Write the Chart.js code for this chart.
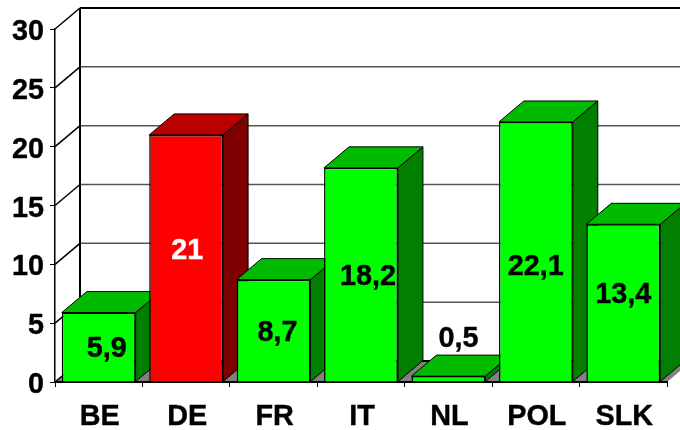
<!DOCTYPE html>
<html>
<head>
<meta charset="utf-8">
<style>
  html, body { margin: 0; padding: 0; background: #fff; }
  #wrap { width: 680px; height: 430px; overflow: hidden; }
</style>
<script src="https://cdn.jsdelivr.net/npm/chart.js@4/dist/chart.umd.min.js"></script>
</head>
<body>
<div id="wrap"><canvas id="chart" width="680" height="430"></canvas></div>
<script>
var categories = ["BE", "DE", "FR", "IT", "NL", "POL", "SLK"];
var values = [5.9, 21, 8.7, 18.2, 0.5, 22.1, 13.4];
var valueLabels = ["5,9", "21", "8,7", "18,2", "0,5", "22,1", "13,4"];
var labelColors = ["#000", "#fff", "#000", "#000", "#000", "#000", "#000"];

var frontColors = ["#00ff00", "#ff0000", "#00ff00", "#00ff00", "#00ff00", "#00ff00", "#00ff00"];
var topColors = ["#00bb00", "#bb0000", "#00bb00", "#00bb00", "#00bb00", "#00bb00", "#00bb00"];
var sideColors = ["#007f00", "#7f0000", "#007f00", "#007f00", "#007f00", "#007f00", "#007f00"];

// 3d depth of the box
var depthX = 25;
var depthY = 21;
// hand placed labels, relative to the middle of each bar
var nudgeX = [8, 1, 4, 7, 10, 0, 0];
var nudgeY = [0, -9, 0, 0, 0, 13, -10];

var fontName = "'Liberation Sans', Arial, sans-serif";

function poly(ctx, pts, fill, stroke, lw) {
  ctx.beginPath();
  ctx.moveTo(pts[0][0], pts[0][1]);
  for (var i = 1; i < pts.length; i++) ctx.lineTo(pts[i][0], pts[i][1]);
  ctx.closePath();
  if (fill) { ctx.fillStyle = fill; ctx.fill(); }
  if (stroke) { ctx.strokeStyle = stroke; ctx.lineWidth = lw; ctx.stroke(); }
}

function line(ctx, x1, y1, x2, y2, color, lw) {
  ctx.beginPath();
  ctx.moveTo(x1, y1);
  ctx.lineTo(x2, y2);
  ctx.strokeStyle = color;
  ctx.lineWidth = lw;
  ctx.stroke();
}

// the original text is a bit narrow and heavy, so squeeze it and thicken it
function label(ctx, text, x, y, align, color) {
  ctx.save();
  ctx.translate(x, y);
  ctx.scale(0.96, 1);
  ctx.font = "bold 30px " + fontName;
  ctx.textAlign = align;
  ctx.textBaseline = "alphabetic";
  ctx.fillStyle = color;
  ctx.strokeStyle = color;
  ctx.lineWidth = 0.4;
  ctx.fillText(text, 0, 0);
  ctx.strokeText(text, 0, 0);
  ctx.restore();
}

var wall = {
  id: "wall",
  beforeDraw: function(chart) {
    var ctx = chart.ctx, a = chart.chartArea, y = chart.scales.y;
    ctx.save();
    // floor
    poly(ctx, [[a.left, a.bottom], [a.right, a.bottom], [a.right + depthX, a.bottom - depthY], [a.left + depthX, a.bottom - depthY]], "#808080");
    // gridlines on the back wall, and the slanted bit on the side wall
    y.ticks.forEach(function(t) {
      var py = y.getPixelForValue(t.value);
      var isEdge = t.value == 0 || t.value == 30;
      line(ctx, a.left + depthX, py - depthY, a.right + depthX, py - depthY, isEdge ? "#000" : "#555", isEdge ? 2 : 1.5);
      line(ctx, a.left, py, a.left + depthX, py - depthY, "#000", 1.5);
    });
    line(ctx, a.left + depthX, a.top - depthY, a.left + depthX, a.bottom - depthY, "#000", 2);
    ctx.restore();
  },
  beforeDatasetsDraw: function(chart) {
    var ctx = chart.ctx, bars = chart.getDatasetMeta(0).data;
    ctx.save();
    ctx.lineJoin = "round";
    bars.forEach(function(b, i) {
      var p = b.getProps(["x", "y", "base", "width"], true);
      var l = p.x - p.width / 2, r = p.x + p.width / 2;
      poly(ctx, [[r, p.y], [r + depthX, p.y - depthY], [r + depthX, p.base - depthY], [r, p.base]], sideColors[i], "#000", 1);
      poly(ctx, [[l, p.y], [r, p.y], [r + depthX, p.y - depthY], [l + depthX, p.y - depthY]], topColors[i], "#000", 1);
    });
    ctx.restore();
  },
  afterDatasetsDraw: function(chart) {
    var ctx = chart.ctx, bars = chart.getDatasetMeta(0).data;
    var xs = chart.scales.x, ys = chart.scales.y, a = chart.chartArea;
    bars.forEach(function(b, i) {
      var p = b.getProps(["x", "y", "base"], true);
      var py = (p.y + p.base) / 2;
      // NL is too thin, label sits above the box
      if (values[i] < 1) py = p.y - 39;
      label(ctx, valueLabels[i], p.x + nudgeX[i], py + nudgeY[i] + 10, "center", labelColors[i]);
    });
    // axis labels, positions come from the scales
    xs.ticks.forEach(function(t, i) {
      label(ctx, xs.getLabelForValue(t.value), xs.getPixelForValue(t.value) + 1, a.bottom + 43, "center", "#000");
    });
    ys.ticks.forEach(function(t) {
      label(ctx, String(t.value), a.left - 11, ys.getPixelForValue(t.value) + 11, "right", "#000");
    });
  }
};

new Chart(document.getElementById("chart"), {
  type: "bar",
  data: {
    labels: categories,
    datasets: [{
      data: values,
      backgroundColor: frontColors,
      borderColor: "#000",
      borderWidth: 1.5,
      categoryPercentage: 1,
      barPercentage: 0.845,
      clip: false
    }]
  },
  options: {
    responsive: false,
    animation: false,
    layout: { padding: { top: 29, right: 13, left: 0, bottom: 0 } },
    plugins: { legend: { display: false }, tooltip: { enabled: false } },
    scales: {
      x: {
        afterFit: function(s) { s.height = 48; },
        grid: { drawOnChartArea: false, color: "#000", tickLength: 5, lineWidth: 1 },
        border: { color: "#000", width: 2 },
        ticks: { display: false }
      },
      y: {
        min: 0,
        max: 30,
        afterFit: function(s) { s.width = 55; },
        grid: { drawOnChartArea: false, color: "#000", tickLength: 5, lineWidth: 1 },
        border: { color: "#000", width: 1.5 },
        ticks: { display: false, stepSize: 5 }
      }
    }
  },
  plugins: [wall]
});
</script>
</body>
</html>
